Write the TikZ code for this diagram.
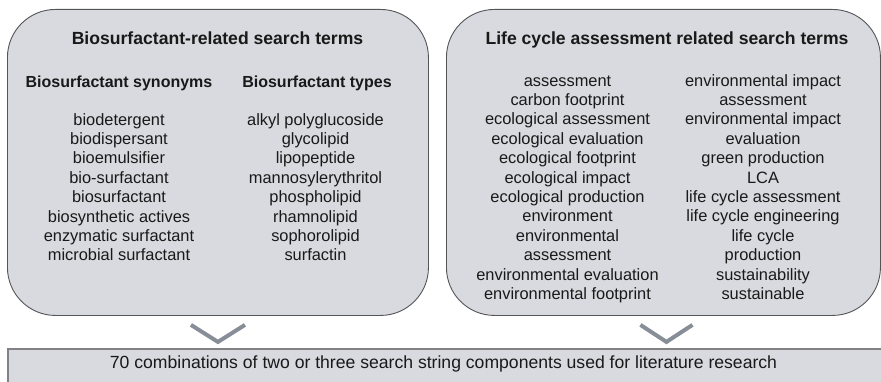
\documentclass[tikz,border=0pt]{standalone}
\usepackage{fontspec}
\setmainfont{Liberation Sans}
\usetikzlibrary{calc}
\definecolor{panelfill}{RGB}{216,218,223}
\definecolor{panelborder}{RGB}{85,85,88}
\definecolor{chevroncol}{RGB}{135,142,152}
\definecolor{barborder}{RGB}{130,130,132}
\definecolor{textcol}{RGB}{25,25,25}
\begin{document}
\begin{tikzpicture}[x=1pt,y=-1pt,
  panel/.style={draw=panelborder, line width=0.9pt, fill=panelfill,
    rounded corners=48pt, inner sep=0pt, anchor=north west},
  bar/.style={draw=barborder, line width=1.6pt, fill=panelfill,
    inner sep=0pt, anchor=north west},
  heading/.style={text=textcol, inner sep=0pt, anchor=base,
    font=\fontsize{17.6}{20}\selectfont\bfseries},
  subheading/.style={text=textcol, inner sep=0pt, anchor=base,
    font=\fontsize{16}{19}\selectfont\bfseries},
  termlist/.style={text=textcol, inner sep=0pt, anchor=north, align=center,
    font=\fontsize{16.4}{19.4}\selectfont},
  plain/.style={text=textcol, inner sep=0pt, anchor=base,
    font=\fontsize{17.6}{20}\selectfont},
  chevron/.style={draw=chevroncol, line width=4pt, line cap=butt, line join=miter}]
\clip (0,0) rectangle (881,382);
\fill[white] (0,0) rectangle (881,382);

% the two panels of search terms
\node[panel, minimum width=421pt, minimum height=306pt] (left) at (7,9) {};
\node[panel, minimum width=434pt, minimum height=306pt] (right) at (446,9) {};

% result bar along the bottom
\node[bar, minimum width=900pt, minimum height=60pt] (bar) at (7,348) {};

% left panel text
\node[heading] (lefttitle) at (217.5,44.4) {Biosurfactant-related search terms};
\node[subheading] (synhead) at (119,87.5) {Biosurfactant synonyms};
\node[subheading] (typehead) at (317,87.5) {Biosurfactant types};
\node[termlist] (synlist) at (119,111.4) {\strut biodetergent\\ biodispersant\\ bioemulsifier\\
  bio-surfactant\\ biosurfactant\\ biosynthetic actives\\ enzymatic surfactant\\ microbial surfactant};
\node[termlist] (typelist) at (315.5,111.4) {\strut alkyl polyglucoside\\ glycolipid\\ lipopeptide\\
  mannosylerythritol\\ phospholipid\\ rhamnolipid\\ sophorolipid\\ surfactin};

% right panel text
\node[heading] (righttitle) at (667,44.4) {Life cycle assessment related search terms};
\node[termlist] (lcalist) at (567.5,72.4) {\strut assessment\\ carbon footprint\\ ecological assessment\\
  ecological evaluation\\ ecological footprint\\ ecological impact\\ ecological production\\
  environment\\ environmental\\ assessment\\ environmental evaluation\\ environmental footprint};
\node[termlist] (lcalist2) at (763,72.4) {\strut environmental impact\\ assessment\\ environmental impact\\
  evaluation\\ green production\\ LCA\\ life cycle assessment\\ life cycle engineering\\
  life cycle\\ production\\ sustainability\\ sustainable};

% bar text
\node[plain] (bartext) at (443.5,368) {70 combinations of two or three search string components used for literature research};

% chevrons pointing from each panel to the bar
\coordinate (lv) at ($(left.south)+(0,26)$);
\coordinate (rv) at ($(right.south)+(3,26)$);
\draw[chevron] ($(lv)+(-27,-17)$) -- (lv) -- ($(lv)+(27,-17)$);
\draw[chevron] ($(rv)+(-26,-17)$) -- (rv) -- ($(rv)+(26,-17)$);
\end{tikzpicture}
\end{document}
